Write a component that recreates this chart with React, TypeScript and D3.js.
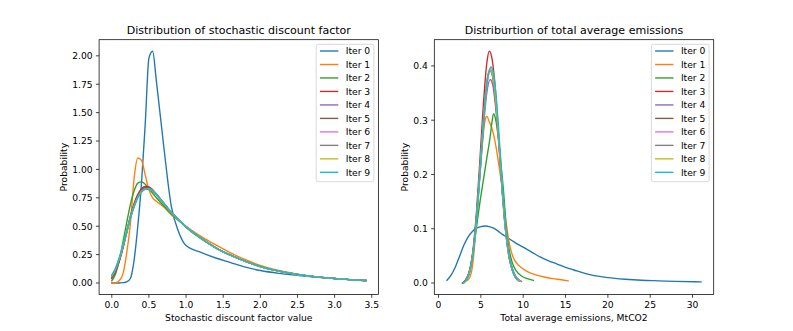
import React from 'react';
import * as d3 from 'd3';

const iterLabels = ['Iter 0', 'Iter 1', 'Iter 2', 'Iter 3', 'Iter 4', 'Iter 5', 'Iter 6', 'Iter 7', 'Iter 8', 'Iter 9'];
const iterColors = ['#1f77b4', '#ff7f0e', '#2ca02c', '#d62728', '#9467bd', '#8c564b', '#e377c2', '#7f7f7f', '#bcbd22', '#17becf'];

// Left panel: stochastic discount factor (shared x grid)
const sdfX = [0, 0.05, 0.1, 0.15, 0.2, 0.25, 0.3, 0.35, 0.4, 0.45, 0.5, 0.55, 0.6, 0.7, 0.8, 0.9, 1.0, 1.2, 1.4, 1.6, 1.8, 2.0, 2.25, 2.5, 2.75, 3.0, 3.2, 3.42];
const sdfIter0 = [0, 0, 0, 0.003, 0.01, 0.04, 0.2, 0.5, 0.88, 1.4, 1.98, 2.04, 1.78, 1.2, 0.68, 0.45, 0.33, 0.27, 0.22, 0.18, 0.14, 0.11, 0.085, 0.068, 0.052, 0.04, 0.03, 0.021];
const sdfIter1 = [0, 0.002, 0.02, 0.08, 0.26, 0.52, 0.92, 1.1, 1.08, 0.95, 0.82, 0.75, 0.72, 0.67, 0.6, 0.55, 0.5, 0.41, 0.335, 0.265, 0.205, 0.155, 0.11, 0.078, 0.055, 0.04, 0.03, 0.022];
const sdfIter2 = [0.02, 0.08, 0.2, 0.36, 0.53, 0.69, 0.81, 0.88, 0.89, 0.87, 0.83, 0.79, 0.75, 0.68, 0.61, 0.55, 0.49, 0.39, 0.31, 0.245, 0.19, 0.145, 0.105, 0.075, 0.054, 0.04, 0.03, 0.022];
const sdfIter3 = [0.04, 0.1, 0.19, 0.31, 0.45, 0.59, 0.7, 0.78, 0.83, 0.85, 0.845, 0.82, 0.78, 0.7, 0.62, 0.555, 0.495, 0.395, 0.31, 0.245, 0.19, 0.145, 0.105, 0.075, 0.054, 0.04, 0.03, 0.022];
const sdfIter4 = [0.05, 0.11, 0.2, 0.31, 0.44, 0.57, 0.68, 0.76, 0.815, 0.835, 0.835, 0.815, 0.78, 0.7, 0.62, 0.555, 0.495, 0.395, 0.31, 0.245, 0.19, 0.145, 0.105, 0.075, 0.054, 0.04, 0.03, 0.022];
const sdfIter5 = [0.045, 0.105, 0.195, 0.31, 0.445, 0.58, 0.69, 0.77, 0.82, 0.84, 0.84, 0.82, 0.785, 0.705, 0.625, 0.558, 0.497, 0.396, 0.31, 0.245, 0.19, 0.145, 0.105, 0.075, 0.054, 0.04, 0.03, 0.022];
const sdfIter6 = [0.06, 0.12, 0.21, 0.32, 0.445, 0.57, 0.675, 0.755, 0.805, 0.83, 0.83, 0.815, 0.78, 0.7, 0.62, 0.555, 0.495, 0.395, 0.31, 0.245, 0.19, 0.145, 0.105, 0.075, 0.054, 0.04, 0.03, 0.022];
const sdfIter7 = [0.065, 0.125, 0.215, 0.325, 0.45, 0.57, 0.675, 0.755, 0.805, 0.828, 0.828, 0.812, 0.78, 0.7, 0.62, 0.555, 0.495, 0.395, 0.31, 0.245, 0.19, 0.145, 0.105, 0.075, 0.054, 0.04, 0.03, 0.022];
const sdfIter8 = [0.065, 0.128, 0.218, 0.328, 0.452, 0.572, 0.675, 0.753, 0.803, 0.826, 0.826, 0.81, 0.778, 0.7, 0.62, 0.555, 0.495, 0.395, 0.31, 0.245, 0.19, 0.145, 0.105, 0.075, 0.054, 0.04, 0.03, 0.022];
const sdfIter9 = [0.07, 0.13, 0.22, 0.33, 0.45, 0.57, 0.67, 0.75, 0.8, 0.825, 0.825, 0.81, 0.78, 0.7, 0.62, 0.555, 0.495, 0.395, 0.31, 0.245, 0.19, 0.145, 0.105, 0.075, 0.054, 0.04, 0.03, 0.022];
const sdfXTicks = [0, 0.5, 1.0, 1.5, 2.0, 2.5, 3.0, 3.5];
const sdfYTicks = [0, 0.25, 0.5, 0.75, 1.0, 1.25, 1.5, 1.75, 2.0];

// Right panel: total average emissions, [x, density] pairs
const emiIter0: [number, number][] = [[1.0, 0.005], [1.5, 0.015], [2.0, 0.03], [2.5, 0.05], [3.0, 0.07], [3.5, 0.085], [4.0, 0.095], [4.5, 0.101], [5.0, 0.104], [5.5, 0.105], [6.0, 0.104], [6.5, 0.101], [7.0, 0.096], [7.5, 0.09], [8.0, 0.085], [9.0, 0.075], [10.0, 0.066], [11.0, 0.057], [12.0, 0.048], [13.0, 0.041], [14.0, 0.035], [15.0, 0.029], [16.0, 0.024], [17.0, 0.019], [18.0, 0.015], [20.0, 0.01], [22.0, 0.007], [24.0, 0.005], [26.0, 0.004], [28.0, 0.003], [31.0, 0.002]];
const emiIter1: [number, number][] = [[2.8, 0.0], [3.2, 0.003], [3.6, 0.008], [4.0, 0.03], [4.4, 0.095], [4.8, 0.18], [5.2, 0.26], [5.5, 0.3], [5.7, 0.307], [6.0, 0.297], [6.4, 0.28], [6.8, 0.25], [7.2, 0.21], [7.6, 0.165], [8.0, 0.11], [8.4, 0.07], [8.8, 0.048], [9.2, 0.037], [9.8, 0.028], [10.5, 0.021], [11.5, 0.015], [12.5, 0.011], [13.5, 0.008], [14.5, 0.006], [15.3, 0.004]];
const emiIter2: [number, number][] = [[2.9, 0.0], [3.3, 0.008], [3.7, 0.025], [4.1, 0.06], [4.5, 0.105], [4.9, 0.15], [5.3, 0.19], [5.7, 0.23], [6.1, 0.27], [6.3, 0.295], [6.5, 0.312], [6.8, 0.297], [7.1, 0.262], [7.4, 0.215], [7.7, 0.165], [8.0, 0.1], [8.3, 0.065], [8.7, 0.038], [9.2, 0.022], [9.8, 0.013], [10.5, 0.008], [11.2, 0.005]];
const emiIter3: [number, number][] = [[2.9, 0.0], [3.3, 0.008], [3.7, 0.025], [4.1, 0.065], [4.5, 0.135], [4.9, 0.23], [5.3, 0.33], [5.7, 0.405], [6.0, 0.427], [6.3, 0.415], [6.7, 0.36], [7.1, 0.27], [7.5, 0.175], [7.9, 0.1], [8.3, 0.05], [8.7, 0.024], [9.1, 0.01], [9.5, 0.004]];
const emiIter4: [number, number][] = [[2.9, 0.0], [3.3, 0.007], [3.7, 0.022], [4.1, 0.058], [4.5, 0.12], [4.9, 0.2], [5.3, 0.285], [5.7, 0.35], [6.1, 0.375], [6.4, 0.365], [6.7, 0.33], [7.1, 0.26], [7.5, 0.175], [7.9, 0.105], [8.3, 0.055], [8.7, 0.028], [9.1, 0.013], [9.5, 0.006], [9.8, 0.003]];
const emiIter5: [number, number][] = [[2.9, 0.0], [3.3, 0.007], [3.7, 0.023], [4.1, 0.06], [4.5, 0.125], [4.9, 0.21], [5.3, 0.3], [5.7, 0.37], [6.1, 0.392], [6.4, 0.38], [6.7, 0.34], [7.1, 0.265], [7.5, 0.175], [7.9, 0.1], [8.3, 0.052], [8.7, 0.025], [9.1, 0.011], [9.5, 0.004]];
const emiIter6: [number, number][] = [[3.0, 0.0], [3.4, 0.009], [3.8, 0.03], [4.2, 0.072], [4.6, 0.14], [5.0, 0.23], [5.4, 0.32], [5.8, 0.38], [6.1, 0.395], [6.4, 0.385], [6.7, 0.345], [7.1, 0.265], [7.5, 0.172], [7.9, 0.098], [8.3, 0.05], [8.7, 0.024], [9.1, 0.01], [9.4, 0.004]];
const emiIter7: [number, number][] = [[2.9, 0.0], [3.3, 0.007], [3.7, 0.023], [4.1, 0.06], [4.5, 0.125], [4.9, 0.21], [5.3, 0.3], [5.7, 0.365], [6.1, 0.39], [6.4, 0.38], [6.7, 0.345], [7.1, 0.27], [7.5, 0.18], [7.9, 0.105], [8.3, 0.055], [8.7, 0.027], [9.1, 0.012], [9.6, 0.004]];
const emiIter8: [number, number][] = [[3.0, 0.0], [3.4, 0.008], [3.8, 0.028], [4.2, 0.07], [4.6, 0.14], [5.0, 0.23], [5.4, 0.315], [5.8, 0.375], [6.15, 0.392], [6.5, 0.375], [6.8, 0.33], [7.2, 0.25], [7.6, 0.16], [8.0, 0.09], [8.4, 0.045], [8.8, 0.021], [9.2, 0.009], [9.5, 0.004]];
const emiIter9: [number, number][] = [[2.9, 0.0], [3.3, 0.006], [3.7, 0.02], [4.1, 0.055], [4.5, 0.12], [4.9, 0.205], [5.3, 0.295], [5.7, 0.365], [6.2, 0.398], [6.5, 0.385], [6.8, 0.345], [7.2, 0.26], [7.6, 0.165], [8.0, 0.09], [8.4, 0.045], [8.8, 0.02], [9.3, 0.006]];
const emiXTicks = [0, 5, 10, 15, 20, 25, 30];
const emiYTicks = [0, 0.1, 0.2, 0.3, 0.4];

const W = 793;
const H = 331;
const AX_TOP = 39.7;
const AX_BOTTOM = 294.6;
const AX_W = 279.4;
const FS = 9.2;
const FONT = '"DejaVu Sans", sans-serif';
const TICK = 3.2;
const LW = 1.38;

type Pt = [number, number];

function Panel(props: {
  x0: number; series: Pt[][]; xTicks: number[]; yTicks: number[];
  xFmt: (v: number) => string; yFmt: (v: number) => string;
  title: string; xlabel: string; ylabelX: number;
}) {
  const { x0, series, xTicks, yTicks, xFmt, yFmt, title, xlabel, ylabelX } = props;
  const all = series.flat();
  const [xmin, xmax] = d3.extent(all, (d) => d[0]) as [number, number];
  const [ymin, ymax] = d3.extent(all, (d) => d[1]) as [number, number];
  const dx = xmax - xmin;
  const dy = ymax - ymin;
  const xs = d3.scaleLinear().domain([xmin - 0.05 * dx, xmax + 0.05 * dx]).range([x0, x0 + AX_W]);
  const ys = d3.scaleLinear().domain([ymin - 0.05 * dy, ymax + 0.05 * dy]).range([AX_BOTTOM, AX_TOP]);
  const line = d3.line<Pt>().x((d) => xs(d[0])).y((d) => ys(d[1])).curve(d3.curveMonotoneX);
  const x1 = x0 + AX_W;
  const cx = x0 + AX_W / 2;
  const legW = 57.7;
  const legX = x1 - 4.6 - legW;
  const legY = AX_TOP + 4.6;
  const legH = 137.4;
  return (
    <g>
      <defs>
        <clipPath id={`clip${x0}`}>
          <rect x={x0} y={AX_TOP} width={AX_W} height={AX_BOTTOM - AX_TOP} />
        </clipPath>
      </defs>
      <g clipPath={`url(#clip${x0})`}>
        {series.map((s, i) => (
          <path key={i} d={line(s) || ''} fill="none" stroke={iterColors[i]} strokeWidth={LW} strokeLinejoin="round" strokeLinecap="square" />
        ))}
      </g>
      <rect x={x0} y={AX_TOP} width={AX_W} height={AX_BOTTOM - AX_TOP} fill="none" stroke="#000" strokeWidth={0.74} />
      {xTicks.map((t) => (
        <g key={`x${t}`}>
          <line x1={xs(t)} x2={xs(t)} y1={AX_BOTTOM} y2={AX_BOTTOM + TICK} stroke="#000" strokeWidth={0.74} />
          <text x={xs(t)} y={307.5} textAnchor="middle" fontSize={FS} fontFamily={FONT} fill="#000">{xFmt(t)}</text>
        </g>
      ))}
      {yTicks.map((t) => (
        <g key={`y${t}`}>
          <line x1={x0 - TICK} x2={x0} y1={ys(t)} y2={ys(t)} stroke="#000" strokeWidth={0.74} />
          <text x={x0 - TICK - 3.2} y={ys(t) + 3.35} textAnchor="end" fontSize={FS} fontFamily={FONT} fill="#000">{yFmt(t)}</text>
        </g>
      ))}
      <text x={cx} y={34.2} textAnchor="middle" fontSize={FS * 1.2} fontFamily={FONT} fill="#000">{title}</text>
      <text x={cx} y={321} textAnchor="middle" fontSize={FS} fontFamily={FONT} fill="#000">{xlabel}</text>
      <text transform={`translate(${ylabelX},${(AX_TOP + AX_BOTTOM) / 2}) rotate(-90)`} textAnchor="middle" fontSize={FS} fontFamily={FONT} fill="#000">Probability</text>
      <rect x={legX} y={legY} width={legW} height={legH} rx={2} ry={2} fill="#fff" fillOpacity={0.8} stroke="#cccccc" strokeWidth={0.74} />
      {iterLabels.map((lab, i) => {
        const yy = legY + 6.7 + i * 13.48;
        return (
          <g key={lab}>
            <line x1={legX + 3.7} x2={legX + 3.7 + 18.4} y1={yy} y2={yy} stroke={iterColors[i]} strokeWidth={LW} />
            <text x={legX + 3.7 + 18.4 + 7.4} y={yy + 3.35} fontSize={FS} fontFamily={FONT} fill="#000">{lab}</text>
          </g>
        );
      })}
    </g>
  );
}

export default function App() {
  const sdfSeries: Pt[][] = [sdfIter0, sdfIter1, sdfIter2, sdfIter3, sdfIter4, sdfIter5, sdfIter6, sdfIter7, sdfIter8, sdfIter9]
    .map((ys) => ys.map((y, j) => [sdfX[j], y] as Pt));
  const emiSeries: Pt[][] = [emiIter0, emiIter1, emiIter2, emiIter3, emiIter4, emiIter5, emiIter6, emiIter7, emiIter8, emiIter9];
  return (
    <div style={{ position: 'absolute', left: 0, top: 0, width: W, height: H, background: '#fff' }}>
      <svg width={W} height={H} viewBox={`0 0 ${W} ${H}`} style={{ display: 'block' }}>
        <rect x={0} y={0} width={W} height={H} fill="#fff" />
        <Panel x0={99.1} series={sdfSeries} xTicks={sdfXTicks} yTicks={sdfYTicks}
          xFmt={d3.format('.1f')} yFmt={d3.format('.2f')}
          title="Distribution of stochastic discount factor" xlabel="Stochastic discount factor value" ylabelX={66.7} />
        <Panel x0={434.3} series={emiSeries} xTicks={emiXTicks} yTicks={emiYTicks}
          xFmt={d3.format('d')} yFmt={d3.format('.1f')}
          title="Distriburtion of total average emissions" xlabel="Total average emissions, MtCO2" ylabelX={408} />
      </svg>
    </div>
  );
}
